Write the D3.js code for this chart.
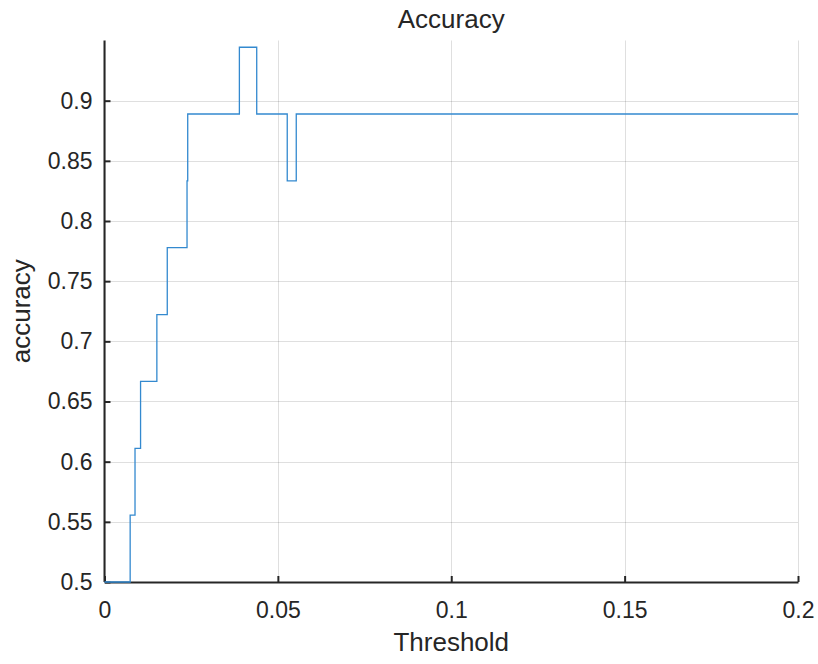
<!DOCTYPE html>
<html>
<head>
<meta charset="utf-8">
<script src="https://cdn.jsdelivr.net/npm/d3@7"></script>
<style>
  html, body { margin: 0; padding: 0; background: #fff; }
  svg { display: block; }
  text { font-family: "Liberation Sans", Arial, Helvetica, sans-serif; fill: #262626; }
</style>
</head>
<body>
<script>
// Threshold values where accuracy changes (step-after), and the accuracy from each point on
const thresholds = [0, 0.0074, 0.0088, 0.0104, 0.0151, 0.0181, 0.0238, 0.0240, 0.0389, 0.0439, 0.0527, 0.0553, 0.2];
const accuracy   = [0.5, 0.5556, 0.6111, 0.6667, 0.7222, 0.7778, 0.8333, 0.8889, 0.9444, 0.8889, 0.8333, 0.8889, 0.8889];
const xTicks = [0, 0.05, 0.1, 0.15, 0.2];
const xTickLabels = ["0", "0.05", "0.1", "0.15", "0.2"];
const yTicks = [0.5, 0.55, 0.6, 0.65, 0.7, 0.75, 0.8, 0.85, 0.9];
const yTickLabels = ["0.5", "0.55", "0.6", "0.65", "0.7", "0.75", "0.8", "0.85", "0.9"];
const titleText = "Accuracy";
const xLabel = "Threshold";
const yLabel = "accuracy";

const W = 818, H = 664;
const margin = { left: 104.5, right: 20, top: 40.5, bottom: 82 };
const x0 = margin.left, x1 = W - margin.right, y0 = H - margin.bottom, y1 = margin.top;

const svg = d3.select("body").append("svg").attr("width", W).attr("height", H);

const x = d3.scaleLinear().domain([0, 0.2]).range([x0, x1]);
const y = d3.scaleLinear().domain([0.5, 0.95]).range([y0, y1]);

// Grid
const grid = svg.append("g").attr("stroke", "#262626").attr("stroke-opacity", 0.15).attr("stroke-width", 1);
grid.selectAll("line.v").data(xTicks).join("line")
  .attr("x1", d => Math.round(x(d)) + 0.5).attr("x2", d => Math.round(x(d)) + 0.5)
  .attr("y1", y1).attr("y2", y0);
grid.selectAll("line.h").data(yTicks).join("line")
  .attr("y1", d => Math.round(y(d)) + 0.5).attr("y2", d => Math.round(y(d)) + 0.5)
  .attr("x1", x0).attr("x2", x1);

// Axes (ticks pointing inward)
const xAxis = d3.axisBottom(x).tickValues(xTicks).tickFormat((d, i) => xTickLabels[i]).tickSizeInner(-6).tickSizeOuter(0).tickPadding(20);
const yAxis = d3.axisLeft(y).tickValues(yTicks).tickFormat((d, i) => yTickLabels[i]).tickSizeInner(-6).tickSizeOuter(0).tickPadding(12);

const gx = svg.append("g").attr("transform", `translate(0,${y0})`).call(xAxis);
const gy = svg.append("g").attr("transform", `translate(${x0},0)`).call(yAxis);
[gx, gy].forEach(g => {
  g.select(".domain").attr("stroke", "#262626").attr("stroke-width", 2);
  g.selectAll(".tick line").attr("stroke", "#262626").attr("stroke-width", 2);
  g.selectAll(".tick text").attr("font-size", 23).attr("fill", "#262626")
    .style("font-family", '"Liberation Sans", Arial, sans-serif');
});
gx.selectAll(".tick text").attr("dy", "0.71em");
// y axis extends to the top of the plot area
gy.select(".domain").attr("d", `M0,${y0}V${y1}`);

// Data line, drawn above the axes
const pts = thresholds.map((t, i) => [t, accuracy[i]]);
svg.append("path")
  .datum(pts)
  .attr("fill", "none")
  .attr("stroke", "#3389cf")
  .attr("stroke-width", 1.3)
  .attr("d", d3.line().x(d => x(d[0])).y(d => y(d[1])).curve(d3.curveStepAfter));

// Title and labels
svg.append("text").attr("x", (x0 + x1) / 2).attr("y", 28).attr("text-anchor", "middle")
  .attr("font-size", 26).text(titleText);
svg.append("text").attr("x", (x0 + x1) / 2).attr("y", 651).attr("text-anchor", "middle")
  .attr("font-size", 26).text(xLabel);
svg.append("text").attr("transform", `translate(30,${(y0 + y1) / 2}) rotate(-90)`)
  .attr("text-anchor", "middle").attr("font-size", 26).text(yLabel);
</script>
</body>
</html>
